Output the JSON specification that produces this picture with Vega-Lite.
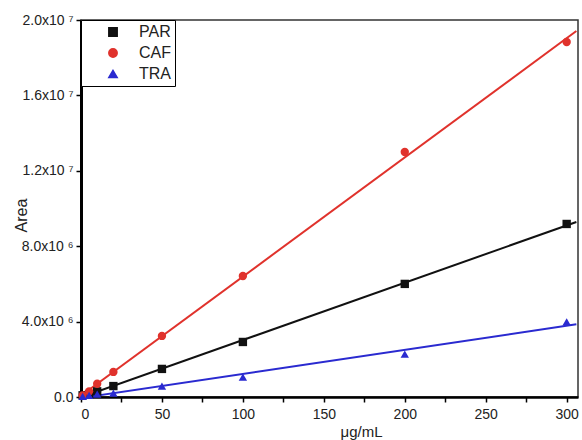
{
  "$schema": "https://vega.github.io/schema/vega-lite/v6.json",
  "width": 497,
  "height": 377,
  "autosize": {"type": "none"},
  "padding": {"left": 81, "top": 20, "right": 4, "bottom": 43},
  "background": "white",
  "config": {
    "font": "Liberation Sans",
    "view": {"stroke": "#333333", "strokeWidth": 1.5}
  },
  "data": {
    "values": [
      {"c": 1, "area": 90000, "s": "PAR"},
      {"c": 5, "area": 150000, "s": "PAR"},
      {"c": 10, "area": 300000, "s": "PAR"},
      {"c": 20, "area": 580000, "s": "PAR"},
      {"c": 50, "area": 1490000, "s": "PAR"},
      {"c": 100, "area": 2920000, "s": "PAR"},
      {"c": 200, "area": 6000000, "s": "PAR"},
      {"c": 300, "area": 9180000, "s": "PAR"},
      {"c": 1, "area": 80000, "s": "CAF"},
      {"c": 5, "area": 300000, "s": "CAF"},
      {"c": 10, "area": 700000, "s": "CAF"},
      {"c": 20, "area": 1330000, "s": "CAF"},
      {"c": 50, "area": 3240000, "s": "CAF"},
      {"c": 100, "area": 6420000, "s": "CAF"},
      {"c": 200, "area": 13000000, "s": "CAF"},
      {"c": 300, "area": 18830000, "s": "CAF"},
      {"c": 1, "area": 30000, "s": "TRA"},
      {"c": 5, "area": 80000, "s": "TRA"},
      {"c": 10, "area": 150000, "s": "TRA"},
      {"c": 20, "area": 200000, "s": "TRA"},
      {"c": 50, "area": 580000, "s": "TRA"},
      {"c": 100, "area": 1060000, "s": "TRA"},
      {"c": 200, "area": 2280000, "s": "TRA"},
      {"c": 300, "area": 3980000, "s": "TRA"}
    ]
  },
  "layer": [
    {
      "transform": [
        {"regression": "area", "on": "c", "groupby": ["s"], "extent": [0, 306]}
      ],
      "mark": {"type": "line", "strokeWidth": 2, "clip": true},
      "encoding": {
        "x": {"field": "c", "type": "quantitative"},
        "y": {"field": "area", "type": "quantitative"},
        "color": {"field": "s", "type": "nominal",
          "scale": {"domain": ["PAR", "CAF", "TRA"], "range": ["#111111", "#e0322c", "#2a2ad0"]}},
        "detail": {"field": "s"}
      }
    },
    {
      "mark": {"type": "point", "filled": true, "size": 70, "opacity": 1},
      "encoding": {
        "x": {
          "field": "c", "type": "quantitative",
          "scale": {"domain": [0, 307], "nice": false, "zero": true},
          "axis": {
            "title": "μg/mL", "titleFontSize": 15, "titleFontWeight": "normal", "titleColor": "#222",
            "titlePadding": 3, "titleX": 280,
            "values": [0, 25, 50, 75, 100, 125, 150, 175, 200, 225, 250, 275, 300],
            "labelExpr": "datum.value % 50 === 0 ? datum.label : ''",
            "labelFontSize": 14, "labelColor": "#222", "labelPadding": 5,
            "domainColor": "#000", "domainWidth": 2.5,
            "tickColor": "#000", "tickWidth": 1.5, "tickSize": 5,
            "grid": false
          }
        },
        "y": {
          "field": "area", "type": "quantitative",
          "scale": {"domain": [0, 20000000], "nice": false},
          "axis": {
            "title": "Area", "titleFontSize": 16, "titleFontWeight": "normal", "titleColor": "#222",
            "titleX": -52, "titleY": 195, "titleAngle": -90, "titleAlign": "center", "titleBaseline": "bottom",
            "values": [0, 2000000, 4000000, 6000000, 8000000, 10000000, 12000000, 14000000, 16000000, 18000000, 20000000],
            "labelExpr": "datum.value === 0 ? '0.0' : datum.value === 4000000 ? '4.0x10 ⁶' : datum.value === 8000000 ? '8.0x10 ⁶' : datum.value === 12000000 ? '1.2x10 ⁷' : datum.value === 16000000 ? '1.6x10 ⁷' : datum.value === 20000000 ? '2.0x10 ⁷' : ''",
            "labelFontSize": 14, "labelColor": "#222", "labelPadding": 3,
            "domainColor": "#000", "domainWidth": 3,
            "tickColor": "#000", "tickWidth": 1.5, "tickSize": 5,
            "grid": false
          }
        },
        "color": {"field": "s", "type": "nominal",
          "scale": {"domain": ["PAR", "CAF", "TRA"], "range": ["#111111", "#e0322c", "#2a2ad0"]},
          "legend": {
            "title": null, "orient": "top-left", "offset": 0,
            "strokeColor": "#000", "fillColor": "white", "padding": 4,
            "labelFontSize": 16, "labelColor": "#222", "symbolSize": 70, "rowPadding": 5,
            "symbolOffset": 20, "labelOffset": 18
          }
        },
        "shape": {"field": "s", "type": "nominal",
          "scale": {"domain": ["PAR", "CAF", "TRA"], "range": ["square", "circle", "triangle-up"]}}
      }
    }
  ]
}
